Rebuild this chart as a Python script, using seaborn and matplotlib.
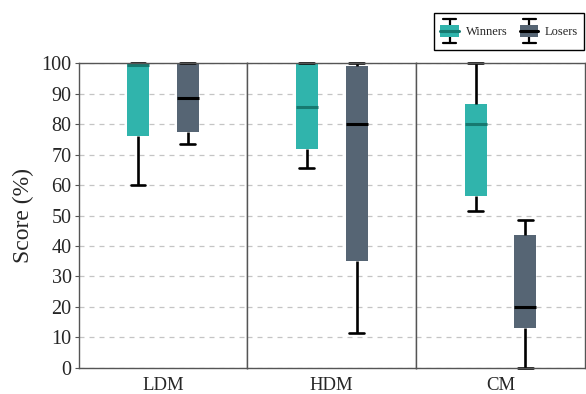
import numpy as np
import pandas as pd
import matplotlib
matplotlib.use("Agg")
import matplotlib.pyplot as plt
from matplotlib.legend_handler import HandlerBase
from matplotlib.patches import Rectangle, Patch
from matplotlib.lines import Line2D
import seaborn as sns

methods = ["LDM", "HDM", "CM"]
groups = ["Winners", "Losers"]

# Five-number summaries per box: lower whisker, Q1, median, Q3, upper whisker
winners_ldm = [60.0, 76.0, 99.5, 100.0, 100.0]
losers_ldm = [73.6, 77.6, 88.6, 100.0, 100.0]
winners_hdm = [65.7, 72.0, 85.6, 100.0, 100.0]
losers_hdm = [11.4, 35.0, 80.0, 99.2, 100.0]
winners_cm = [51.5, 56.3, 80.0, 86.8, 100.0]
losers_cm = [0.0, 12.9, 20.0, 43.6, 48.5]

summaries = {
    ("LDM", "Winners"): winners_ldm, ("LDM", "Losers"): losers_ldm,
    ("HDM", "Winners"): winners_hdm, ("HDM", "Losers"): losers_hdm,
    ("CM", "Winners"): winners_cm, ("CM", "Losers"): losers_cm,
}

rows = []
for (m, g), vals in summaries.items():
    for v in vals:
        rows.append({"Method": m, "Group": g, "Score": v})
df = pd.DataFrame(rows)

box_colors = {"Winners": "#30b4ac", "Losers": "#566574"}
median_colors = {"Winners": "#177970", "Losers": "#000000"}

sns.set_style("white")
plt.rcParams["font.family"] = ["Liberation Serif", "DejaVu Serif"]

fig = plt.figure(figsize=(5.86, 3.94), dpi=100)
axes = fig.subplots(1, 3, sharey=True)
fig.subplots_adjust(left=0.134, right=0.998, bottom=0.067, top=0.839, wspace=0)

spine_color = "#555555"
for i, (ax, m) in enumerate(zip(axes, methods)):
    sub = df[df.Method == m]
    sns.boxplot(
        data=sub, x="Method", y="Score", hue="Group", hue_order=groups,
        palette=box_colors, saturation=1, width=0.59, gap=0.56, whis=(0, 100),
        showfliers=False, linewidth=1.9, linecolor="black",
        boxprops=dict(linewidth=0),
        medianprops=dict(color="#177970", linewidth=2.2),
        capwidths=0.088, legend=False, ax=ax,
    )
    for line in ax.lines:
        xd = np.asarray(line.get_xdata(), dtype=float)
        if line.get_color() == "#177970" and xd.mean() > 0:
            line.set_color(median_colors["Losers"])
        line.set_clip_on(False)
    ax.set_xlim(-0.5, 0.5)
    ax.set_ylim(0, 100)
    ax.set_yticks(np.arange(0, 101, 10))
    ax.yaxis.grid(True, linestyle=(0, (4, 4)), color="#c4c4c4", linewidth=0.9)
    ax.set_axisbelow(True)
    ax.set_xlabel("")
    ax.set_ylabel("")
    for s in ax.spines.values():
        s.set_color(spine_color)
        s.set_linewidth(1.0)
    ax.tick_params(axis="x", length=0, labelsize=13.5, pad=7)
    ax.tick_params(axis="y", length=3, color=spine_color, labelsize=14.5, pad=2,
                   left=(i == 0))

axes[0].set_ylabel("Score (%)", fontsize=17, labelpad=5)


class BoxIconHandler(HandlerBase):
    def __init__(self, face, median):
        super().__init__()
        self.face = face
        self.median = median

    def create_artists(self, legend, orig_handle, xdescent, ydescent,
                       width, height, fontsize, trans):
        x0, y0 = -xdescent, -ydescent
        cx = x0 + width / 2
        b0, b1 = y0 + 0.25 * height, y0 + 0.75 * height
        cw = 0.7 * width
        arts = [
            Line2D([cx, cx], [y0, b0], color="black", lw=1.6),
            Line2D([cx, cx], [b1, y0 + height], color="black", lw=1.6),
            Line2D([cx - cw / 2, cx + cw / 2], [y0, y0], color="black", lw=1.6),
            Line2D([cx - cw / 2, cx + cw / 2], [y0 + height] * 2, color="black", lw=1.6),
            Rectangle((x0, b0), width, b1 - b0, facecolor=self.face, edgecolor="none"),
            Line2D([x0, x0 + width], [(b0 + b1) / 2] * 2, color=self.median, lw=2.2),
        ]
        for a in arts:
            a.set_transform(trans)
        return arts


handles = [Patch(label=g) for g in groups]
leg = fig.legend(
    handles=handles, labels=groups, ncol=2, loc="upper right",
    bbox_to_anchor=(0.997, 0.967), borderaxespad=0, fontsize=9,
    handlelength=1.5, handleheight=2.6, handletextpad=0.5, columnspacing=1.0,
    borderpad=0.5, fancybox=False, edgecolor="black", framealpha=1,
    handler_map={handles[0]: BoxIconHandler(box_colors["Winners"], median_colors["Winners"]),
                 handles[1]: BoxIconHandler(box_colors["Losers"], median_colors["Losers"])},
)
leg.get_frame().set_linewidth(1.0)

fig.savefig("out.png", dpi=100)
